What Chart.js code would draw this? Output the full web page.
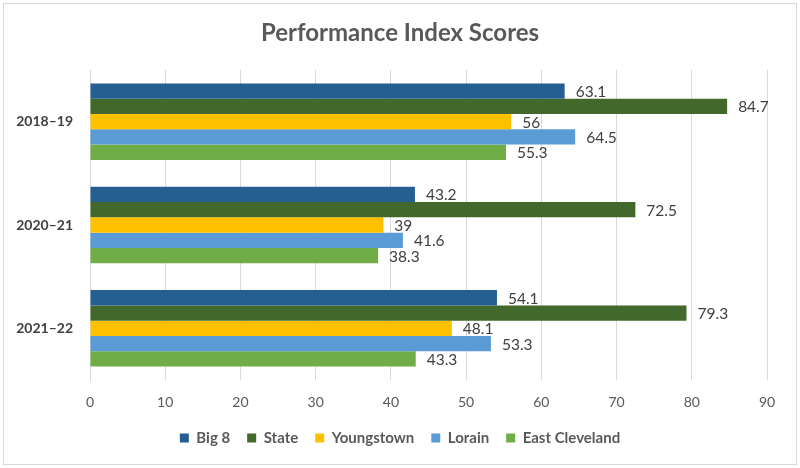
<!DOCTYPE html>
<html>
<head>
<meta charset="utf-8">
<script src="https://cdn.jsdelivr.net/npm/chart.js@4/dist/chart.umd.min.js"></script>
<style>
  html, body { margin: 0; padding: 0; background: #fff; }
  #wrap { width: 800px; height: 468px; position: relative; }
</style>
</head>
<body>
<div id="wrap"><canvas id="c" width="800" height="468"></canvas></div>
<script>
const categories = ["2018\u201319", "2020\u201321", "2021\u201322"];
const big8 = [63.1, 43.2, 54.1];
const state = [84.7, 72.5, 79.3];
const youngstown = [56, 39, 48.1];
const lorain = [64.5, 41.6, 53.3];
const eastCleveland = [55.3, 38.3, 43.3];
const xTicks = [0, 10, 20, 30, 40, 50, 60, 70, 80, 90];

const FONT = "Lato, 'Noto Sans', sans-serif";

const frame = {
  id: 'frame',
  beforeDraw(chart) {
    const c = chart.ctx;
    c.save();
    c.fillStyle = '#fff';
    c.fillRect(0, 0, chart.width, chart.height);
    c.strokeStyle = '#d9d9d9';
    c.lineWidth = 1;
    c.strokeRect(3.5, 3.5, chart.width - 7, chart.height - 7);
    c.restore();
  }
};

const valueLabels = {
  id: 'valueLabels',
  afterDatasetsDraw(chart) {
    const c = chart.ctx;
    c.save();
    c.font = "15.5px " + FONT;
    c.fillStyle = '#404040';
    c.textAlign = 'left';
    c.textBaseline = 'middle';
    chart.data.datasets.forEach((ds, i) => {
      const meta = chart.getDatasetMeta(i);
      meta.data.forEach((el, j) => {
        c.fillText(String(ds.data[j]), el.x + 11, el.y + 1);
      });
    });
    c.restore();
  }
};

new Chart(document.getElementById('c'), {
  type: 'bar',
  data: {
    labels: categories,
    datasets: [
      { label: 'Big 8', data: big8, backgroundColor: '#255E91' },
      { label: 'State', data: state, backgroundColor: '#43682B' },
      { label: 'Youngstown', data: youngstown, backgroundColor: '#FFC000' },
      { label: 'Lorain', data: lorain, backgroundColor: '#5B9BD5' },
      { label: 'East Cleveland', data: eastCleveland, backgroundColor: '#70AD47' }
    ]
  },
  options: {
    indexAxis: 'y',
    responsive: false,
    animation: false,
    datasets: { bar: { categoryPercentage: 0.74, barPercentage: 1.0, borderWidth: 0 } },
    layout: { padding: { left: 0, right: 0, top: 0, bottom: 12.5 } },
    plugins: {
      title: {
        display: true,
        text: 'Performance Index Scores',
        color: '#595959',
        font: { family: FONT, size: 24, weight: 'bold' },
        padding: { top: 19, bottom: 22.2 }
      },
      legend: {
        position: 'bottom',
        labels: {
          boxWidth: 9, boxHeight: 9,
          color: '#595959',
          font: { family: FONT, size: 15, weight: 'bold' },
          padding: 17
        }
      },
      tooltip: { enabled: false }
    },
    scales: {
      x: {
        min: 0, max: 90,
        afterBuildTicks(scale) { scale.ticks = xTicks.map(v => ({ value: v })); },
        afterFit(scale) { scale.height = 33.5; },
        grid: { color: '#d9d9d9', drawTicks: false },
        border: { display: false },
        ticks: { color: '#595959', font: { family: FONT, size: 14 }, padding: 14 }
      },
      y: {
        afterFit(scale) { scale.width = 90; },
        grid: { display: false, drawTicks: false },
        border: { display: true, color: '#d9d9d9' },
        ticks: { color: '#404040', font: { family: FONT, size: 14, weight: 'bold' }, padding: 17 }
      },
      rightGap: {
        type: 'linear',
        position: 'right',
        display: true,
        afterFit(scale) { scale.width = 33; },
        grid: { display: false, drawTicks: false },
        border: { display: false },
        ticks: { display: false }
      }
    }
  },
  plugins: [frame, valueLabels]
});
</script>
</body>
</html>
